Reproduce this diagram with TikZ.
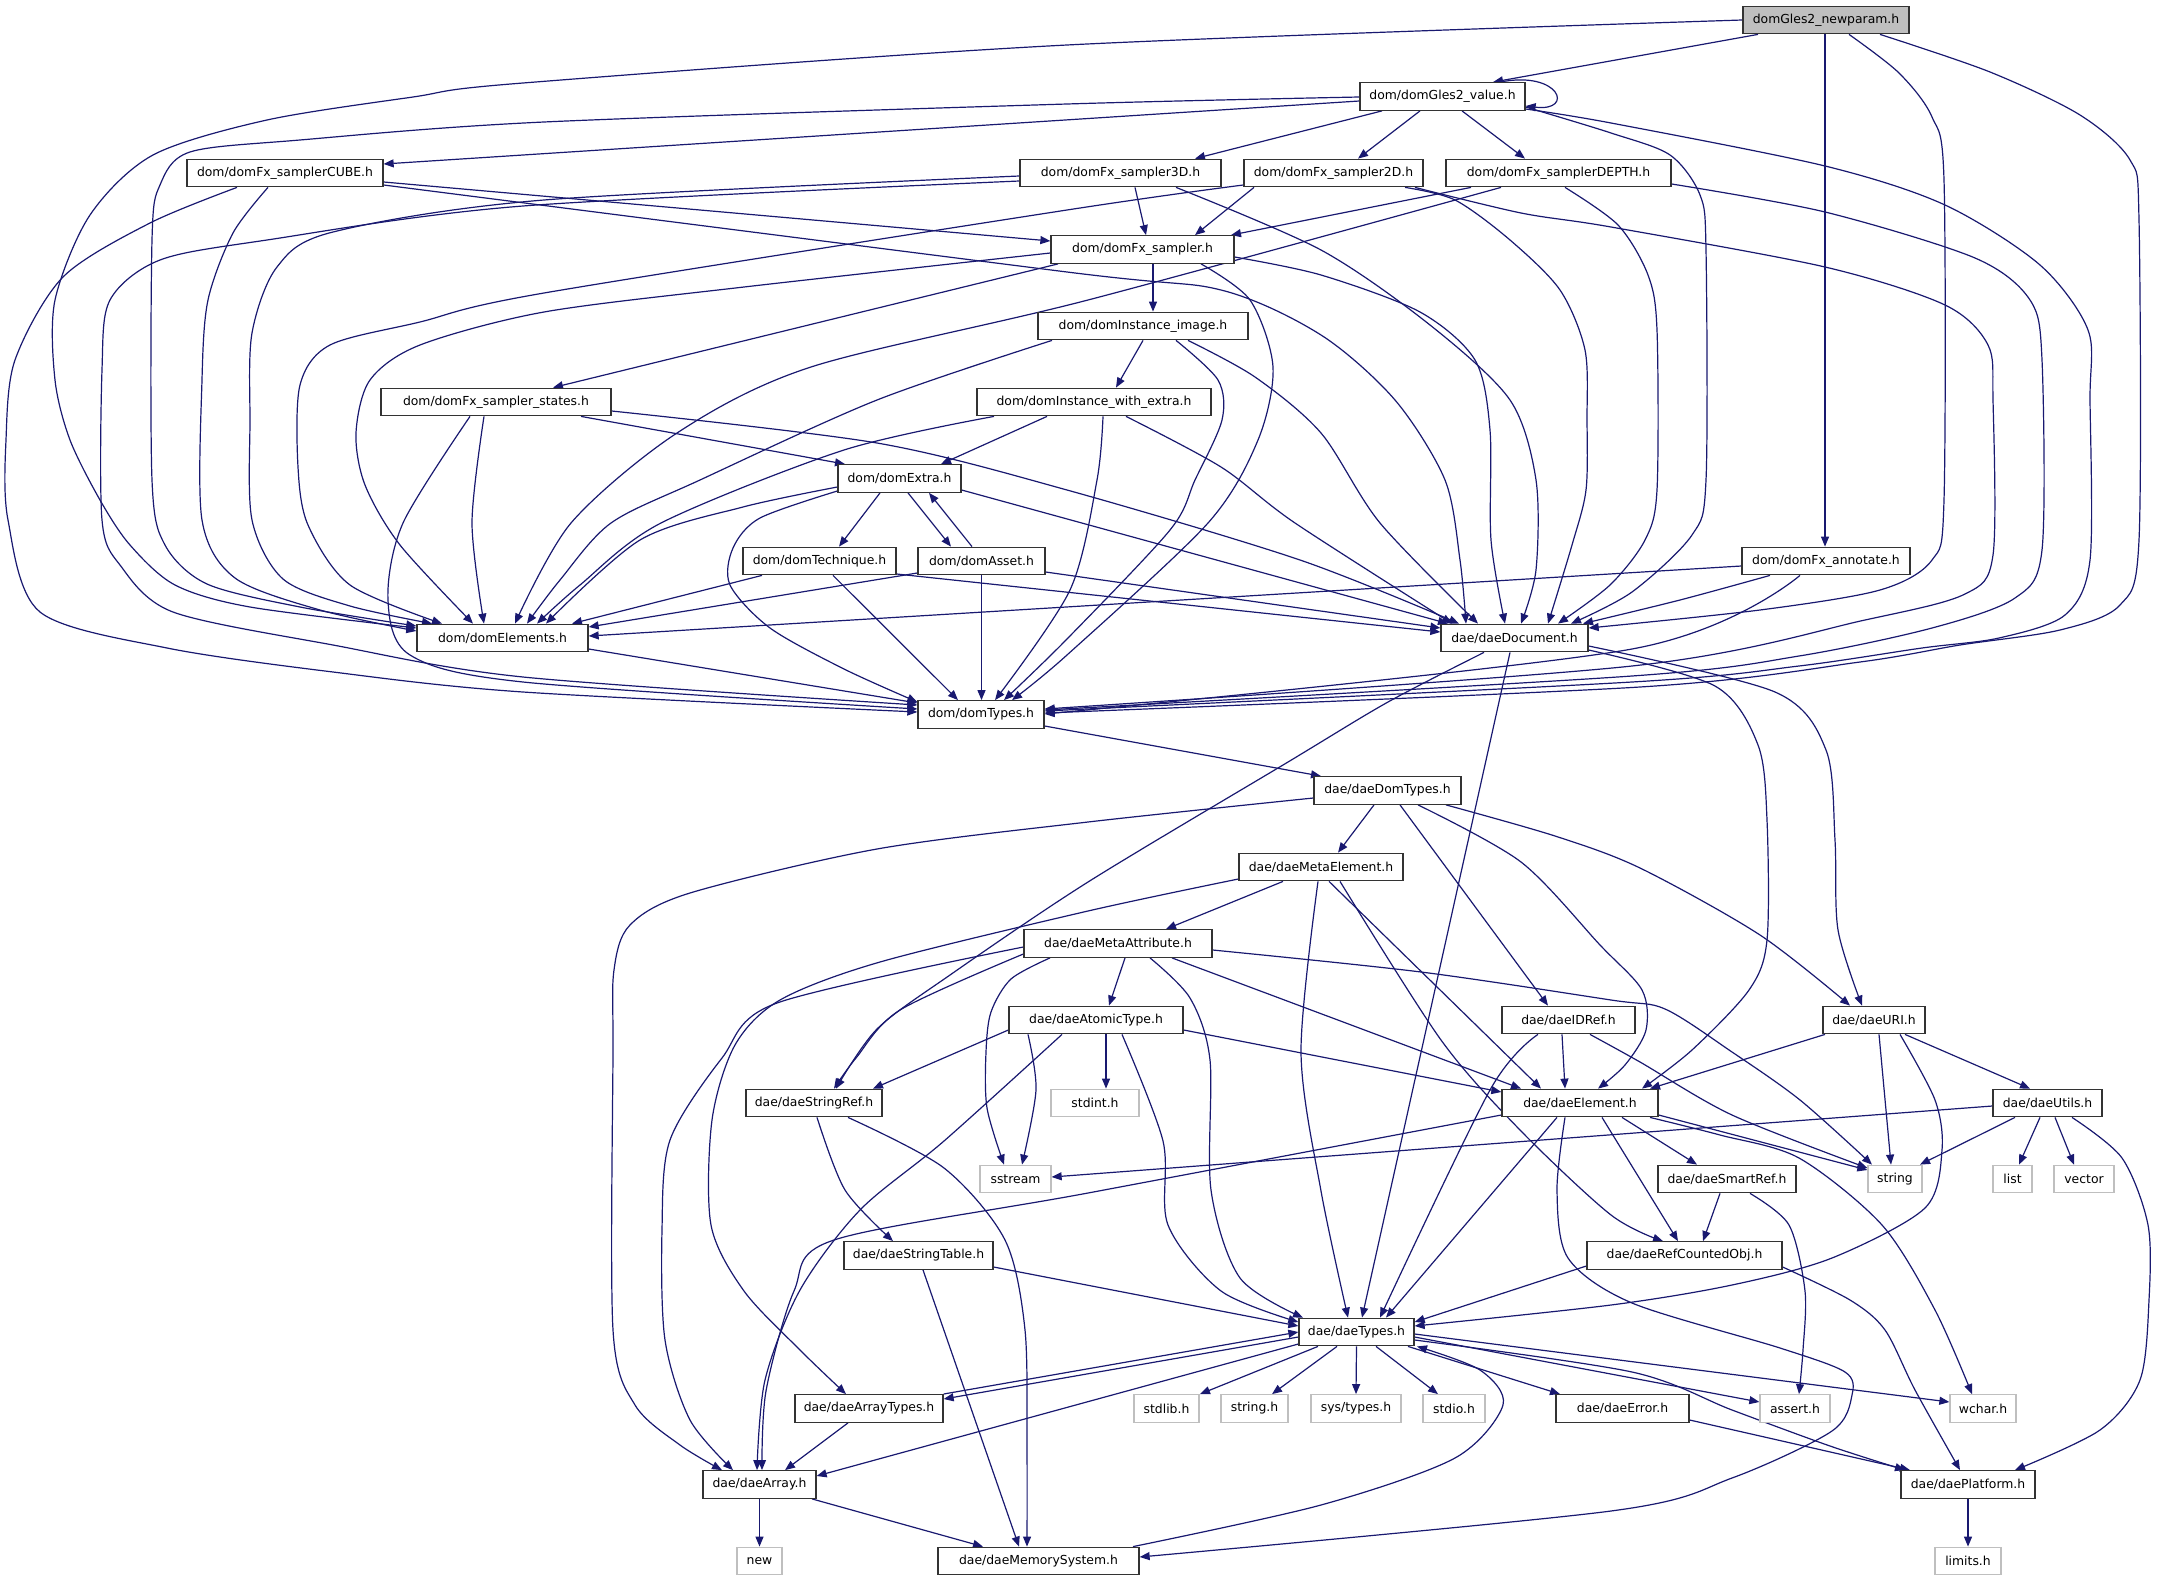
\documentclass[tikz,border=0pt]{standalone}
\usepackage{fontspec}
\setmainfont{DejaVu Sans}
\usetikzlibrary{arrows.meta,backgrounds}
\definecolor{edgec}{HTML}{191970}
\definecolor{gborder}{HTML}{BFBFBF}
\definecolor{rootfill}{HTML}{BFBFBF}
\newcommand\dxfont{\fontsize{12.4}{14}\selectfont}
\tikzset{
  box/.style={draw=black!80, line width=1.3pt, fill=white, minimum height=27.5pt, inner sep=0pt, font=\dxfont, text=black},
  sys/.style={box, draw=gborder},
  e/.style={draw=edgec, line width=1.2pt, -{Triangle[length=10pt,width=8pt]}},
}
\begin{document}
\begin{tikzpicture}[x=1pt,y=-1pt]
\useasboundingbox (0,0) rectangle (2176,1587);
% ---------- nodes ----------
\node[box, fill=rootfill, minimum width=166pt] (R) at (1826,20) {domGles2\_newparam.h};
\node[box, minimum width=165pt] (V) at (1442.5,96.5) {dom/domGles2\_value.h};
\node[box, minimum width=196pt] (CUBE) at (285,173) {dom/domFx\_samplerCUBE.h};
\node[box, minimum width=201pt] (S3D) at (1120.5,173) {dom/domFx\_sampler3D.h};
\node[box, minimum width=179pt] (S2D) at (1333.5,173) {dom/domFx\_sampler2D.h};
\node[box, minimum width=225pt] (DEPTH) at (1558.5,173) {dom/domFx\_samplerDEPTH.h};
\node[box, minimum width=183pt] (SAMP) at (1142.5,249.5) {dom/domFx\_sampler.h};
\node[box, minimum width=210pt] (IMG) at (1143,326) {dom/domInstance\_image.h};
\node[box, minimum width=234pt] (WEX) at (1094,402) {dom/domInstance\_with\_extra.h};
\node[box, minimum width=230pt] (STATES) at (496,402) {dom/domFx\_sampler\_states.h};
\node[box, minimum width=123pt] (EXTRA) at (899.5,478.5) {dom/domExtra.h};
\node[box, minimum width=153pt] (TECH) at (819.5,561) {dom/domTechnique.h};
\node[box, minimum width=127pt] (ASSET) at (981.5,561) {dom/domAsset.h};
\node[box, minimum width=168pt] (ANN) at (1826,561) {dom/domFx\_annotate.h};
\node[box, minimum width=171pt] (ELEM) at (502.5,638) {dom/domElements.h};
\node[box, minimum width=147pt] (DOC) at (1514.5,638) {dae/daeDocument.h};
\node[box, minimum width=126pt] (DTYPES) at (981,714.5) {dom/domTypes.h};
\node[box, minimum width=147pt] (DDT) at (1387.5,790.5) {dae/daeDomTypes.h};
\node[box, minimum width=164pt] (META) at (1321,867) {dae/daeMetaElement.h};
\node[box, minimum width=188pt] (MATTR) at (1118,943.5) {dae/daeMetaAttribute.h};
\node[box, minimum width=174pt] (ATOM) at (1096,1020) {dae/daeAtomicType.h};
\node[box, minimum width=133pt] (IDREF) at (1568.5,1020) {dae/daeIDRef.h};
\node[box, minimum width=102pt] (URI) at (1874,1020) {dae/daeURI.h};
\node[box, minimum width=136pt] (SREF) at (814,1103) {dae/daeStringRef.h};
\node[sys, minimum width=88pt] (STDINT) at (1095,1103) {stdint.h};
\node[box, minimum width=156pt] (ELT) at (1580,1103) {dae/daeElement.h};
\node[box, minimum width=109pt] (UTILS) at (2047.5,1103) {dae/daeUtils.h};
\node[sys, minimum width=71pt] (SSTREAM) at (1015.5,1179) {sstream};
\node[box, minimum width=138pt] (SMART) at (1727,1179) {dae/daeSmartRef.h};
\node[sys, minimum width=54pt] (STRING) at (1895,1179) {string};
\node[sys, minimum width=39pt] (LIST) at (2012.5,1179) {list};
\node[sys, minimum width=60pt] (VECTOR) at (2084,1179) {vector};
\node[box, minimum width=149pt] (STABLE) at (918.5,1255.5) {dae/daeStringTable.h};
\node[box, minimum width=195pt] (REFC) at (1684.5,1255.5) {dae/daeRefCountedObj.h};
\node[box, minimum width=115pt] (DTY) at (1356.5,1332) {dae/daeTypes.h};
\node[sys, minimum width=65pt] (STDLIB) at (1166.5,1408.5) {stdlib.h};
\node[sys, minimum width=67pt] (STRINGH) at (1254.5,1408.5) {string.h};
\node[sys, minimum width=90pt] (SYSTYPES) at (1356,1408.5) {sys/types.h};
\node[sys, minimum width=62pt] (STDIO) at (1454,1408.5) {stdio.h};
\node[box, minimum width=133pt] (ERROR) at (1622.5,1408.5) {dae/daeError.h};
\node[sys, minimum width=70pt] (ASSERT) at (1795,1408.5) {assert.h};
\node[sys, minimum width=66pt] (WCHAR) at (1983,1408.5) {wchar.h};
\node[box, minimum width=148pt] (ATYPES) at (869,1408.5) {dae/daeArrayTypes.h};
\node[box, minimum width=113pt] (ARRAY) at (759.5,1484.5) {dae/daeArray.h};
\node[box, minimum width=134pt] (PLAT) at (1968,1484.5) {dae/daePlatform.h};
\node[sys, minimum width=45pt] (NEW) at (759.5,1561) {new};
\node[box, minimum width=201pt] (MEM) at (1038.5,1561) {dae/daeMemorySystem.h};
\node[sys, minimum width=66pt] (LIMITS) at (1968,1561) {limits.h};
% ---------- edges ----------
\begin{scope}[on background layer]
% root
\draw[e] (R.south -| 1758,0) -- (V.north -| 1493,0);
\draw[e] plot[smooth,tension=.5] coordinates {(R.west) (1067,45) (523,83) (413,97) (267,120) (153,155) (90,215) (55,300) (55,380) (70,440) (100,500) (130,545) (175,585) (250,607) (ELEM.west |- 0,628)};
\draw[e] (R.south -| 1825,0) -- (ANN.north -| 1825,0);
\draw[e] plot[smooth,tension=.5] coordinates {(R.south -| 1849,0) (1899,73) (1932,117) (1944,180) (1944,500) (1932,560) (1880,590) (1760,610) (DOC.east |- 0,628)};
\draw[e] plot[smooth,tension=.5] coordinates {(R.south -| 1880,0) (1990,72) (2080,115) (2130,160) (2139,220) (2139,540) (2120,605) (2060,630) (1960,645) (1860,662) (1640,687) (DTYPES.east |- 0,713)};
% value
\draw[e] (V.north -| 1500,0) .. controls (1560,70) and (1575,112) .. (V.east |- 0,106);
\draw[e] (V.west |- 0,101) -- (CUBE.east |- 0,164);
\draw[e] plot[smooth,tension=.5] coordinates {(V.west |- 0,97) (1067,104) (544,122) (300,140) (190,152) (160,185) (152,240) (152,480) (165,545) (207,584) (300,607) (ELEM.west |- 0,626)};
\draw[e] (V.south -| 1382,0) -- (S3D.north -| 1195,0);
\draw[e] (V.south -| 1420,0) -- (S2D.north -| 1358,0);
\draw[e] (V.south -| 1462,0) -- (DEPTH.north -| 1525,0);
\draw[e] plot[smooth,tension=.5] coordinates {(V.east |- 0,109) (1611,123) (1825,166) (1945,205) (2040,265) (2088,330) (2090,400) (2090,560) (2065,615) (1999,638) (1922,648) (1799,666) (1632,682) (DTYPES.east |- 0,711)};
\draw[e] plot[smooth,tension=.5] coordinates {(V.east |- 0,107) (1611,133) (1670,155) (1700,195) (1706,250) (1706,480) (1692,535) (1632,592) (DOC.north -| 1571,0)};
% samplerCUBE
\draw[e] (CUBE.east |- 0,182) -- (SAMP.west |- 0,241);
\draw[e] plot[smooth,tension=.5] coordinates {(CUBE.east |- 0,185) (1067,272) (1221,290) (1321,335) (1395,400) (1445,480) (1460,560) (DOC.north -| 1466,0)};
\draw[e] plot[smooth,tension=.5] coordinates {(CUBE.south -| 268,0) (233,233) (208,300) (202,380) (202,520) (235,578) (320,610) (ELEM.west |- 0,631)};
\draw[e] plot[smooth,tension=.5] coordinates {(CUBE.south -| 237,0) (150,223) (63,277) (15,360) (6,440) (8,520) (40,612) (167,648) (333,672) (523,692) (DTYPES.west |- 0,712)};
% sampler3D
\draw[e] (S3D.south -| 1135,0) -- (SAMP.north -| 1146,0);
\draw[e] plot[smooth,tension=.5] coordinates {(S3D.west |- 0,176) (544,200) (333,232) (277,267) (252,333) (250,420) (252,520) (283,579) (350,606) (ELEM.north -| 432,0)};
\draw[e] plot[smooth,tension=.5] coordinates {(S3D.west |- 0,181) (523,206) (267,240) (160,260) (110,300) (102,370) (102,520) (120,565) (173,612) (333,645) (523,677) (DTYPES.west |- 0,705)};
\draw[e] plot[smooth,tension=.5] coordinates {(S3D.south -| 1176,0) (1321,250) (1430,325) (1510,400) (1536,480) (1536,570) (DOC.north -| 1521,0)};
% sampler2D
\draw[e] (S2D.south -| 1254,0) -- (SAMP.north -| 1195,0);
\draw[e] plot[smooth,tension=.5] coordinates {(S2D.west |- 0,185) (1067,210) (544,293) (420,322) (330,345) (300,385) (298,467) (308,525) (350,585) (ELEM.north -| 442,0)};
\draw[e] plot[smooth,tension=.5] coordinates {(S2D.south -| 1405,0) (1455,200) (1510,240) (1560,290) (1585,350) (1587,420) (1586,490) (1572,545) (DOC.north -| 1548,0)};
\draw[e] plot[smooth,tension=.5] coordinates {(S2D.south -| 1415,0) (1521,213) (1611,227) (1825,267) (1945,305) (1988,345) (1993,400) (1993,555) (1965,594) (1865,620) (1632,666) (DTYPES.east |- 0,709)};
% samplerDEPTH
\draw[e] (DEPTH.south -| 1471,0) -- (SAMP.north -| 1231,0);
\draw[e] plot[smooth,tension=.5] coordinates {(DEPTH.south -| 1501,0) (1088,300) (811,367) (677,433) (571,523) (ELEM.north -| 515,0)};
\draw[e] plot[smooth,tension=.5] coordinates {(DEPTH.south -| 1565,0) (1618,225) (1648,275) (1657,330) (1657,490) (1645,540) (1610,585) (DOC.north -| 1558,0)};
\draw[e] plot[smooth,tension=.5] coordinates {(DEPTH.east |- 0,184) (1825,212) (1975,258) (2030,300) (2042,360) (2042,550) (2015,598) (1932,628) (1799,656) (1632,676) (DTYPES.east |- 0,710)};
% sampler
\draw[e] (SAMP.south -| 1153,0) -- (IMG.north -| 1153,0);
\draw[e] (SAMP.south -| 1058,0) -- (STATES.north -| 553,0);
\draw[e] plot[smooth,tension=.5] coordinates {(SAMP.west |- 0,253) (744,287) (544,312) (420,345) (370,380) (356,433) (365,485) (400,545) (ELEM.north -| 473,0)};
\draw[e] plot[smooth,tension=.5] coordinates {(SAMP.south -| 1201,0) (1250,300) (1273,367) (1258,440) (1208,523) (1067,655) (DTYPES.north -| 1012,0)};
\draw[e] plot[smooth,tension=.5] coordinates {(SAMP.east |- 0,257) (1321,275) (1420,312) (1475,360) (1490,430) (1491,540) (DOC.north -| 1505,0)};
% instance_image
\draw[e] (IMG.south -| 1143,0) -- (WEX.north -| 1116,0);
\draw[e] plot[smooth,tension=.5] coordinates {(IMG.south -| 1052,0) (877,400) (700,480) (611,523) (560,580) (ELEM.north -| 527,0)};
\draw[e] plot[smooth,tension=.5] coordinates {(IMG.south -| 1176,0) (1218,380) (1222,420) (1195,480) (1170,530) (1067,639) (DTYPES.north -| 1004,0)};
\draw[e] plot[smooth,tension=.5] coordinates {(IMG.south -| 1188,0) (1255,377) (1321,433) (1380,523) (DOC.north -| 1478,0)};
% instance_with_extra
\draw[e] (WEX.south -| 1047,0) -- (EXTRA.north -| 941,0);
\draw[e] plot[smooth,tension=.5] coordinates {(WEX.south -| 994,0) (844,450) (661,523) (580,585) (ELEM.north -| 537,0)};
\draw[e] plot[smooth,tension=.5] coordinates {(WEX.south -| 1103,0) (1097,480) (1070,590) (DTYPES.north -| 995,0)};
\draw[e] plot[smooth,tension=.5] coordinates {(WEX.south -| 1126,0) (1221,467) (1295,523) (DOC.north -| 1452,0)};
% sampler_states
\draw[e] (STATES.south -| 581,0) -- (EXTRA.north -| 845,0);
\draw[e] plot[smooth,tension=.5] coordinates {(STATES.south -| 484,0) (472,523) (ELEM.north -| 484,0)};
\draw[e] plot[smooth,tension=.5] coordinates {(STATES.south -| 470,0) (403,523) (388,600) (410,655) (523,682) (DTYPES.west |- 0,709)};
\draw[e] plot[smooth,tension=.5] coordinates {(STATES.east |- 0,411) (877,443) (1067,490) (1300,560) (DOC.north -| 1459,0)};
% extra
\draw[e] (EXTRA.south -| 880,0) -- (TECH.north -| 839,0);
\draw[e] (EXTRA.south -| 908,0) -- (ASSET.north -| 951,0);
\draw[e] (ASSET.north -| 972,0) -- (EXTRA.south -| 929,0);
\draw[e] plot[smooth,tension=.5] coordinates {(EXTRA.west |- 0,487) (743,507) (640,540) (ELEM.north -| 546,0)};
\draw[e] plot[smooth,tension=.5] coordinates {(EXTRA.west |- 0,491) (760,518) (733,548) (730,585) (770,628) (844,669) (DTYPES.west |- 0,702)};
\draw[e] (EXTRA.east |- 0,490) -- (DOC.north -| 1448,0);
% technique
\draw[e] (TECH.south -| 762,0) -- (ELEM.north -| 572,0);
\draw[e] (TECH.south -| 833,0) -- (DTYPES.north -| 958,0);
\draw[e] (TECH.east |- 0,574) -- (DOC.west |- 0,632);
% asset
\draw[e] (ASSET.west |- 0,573) -- (ELEM.east |- 0,627);
\draw[e] (ASSET.south) -- (DTYPES.north -| 981.5,0);
\draw[e] (ASSET.east |- 0,572) -- (DOC.west |- 0,628);
% annotate
\draw[e] (ANN.west |- 0,566) -- (ELEM.east |- 0,636);
\draw[e] plot[smooth,tension=.5] coordinates {(ANN.south -| 1770,0) (1680,600) (DOC.north -| 1583,0)};
\draw[e] plot[smooth,tension=.5] coordinates {(ANN.south -| 1800,0) (1632,649) (DTYPES.east |- 0,714)};
% domElements, domTypes
\draw[e] (ELEM.east |- 0,649) -- (DTYPES.west |- 0,703);
\draw[e] (DTYPES.east |- 0,726) -- (DDT.north -| 1321,0);
% daeDocument
\draw[e] plot[smooth,tension=.5] coordinates {(DOC.south -| 1484,0) (1388,702) (1288,762) (1088,882) (950,975) (877,1029) (SREF.north -| 836,0)};
\draw[e] (DOC.south -| 1510,0) -- (DTY.north -| 1362,0);
\draw[e] plot[smooth,tension=.5] coordinates {(DOC.east |- 0,650) (1715,686) (1758,745) (1767,820) (1767,940) (1749,990) (1692,1050) (ELT.north -| 1642,0)};
\draw[e] plot[smooth,tension=.5] coordinates {(DOC.east |- 0,646) (1775,692) (1826,750) (1835,840) (1838,930) (URI.north -| 1862,0)};
% daeDomTypes
\draw[e] (DDT.south -| 1374,0) -- (META.north -| 1338,0);
\draw[e] (DDT.south -| 1400,0) -- (IDREF.north -| 1548,0);
\draw[e] plot[smooth,tension=.5] coordinates {(DDT.south -| 1418,0) (1521,862) (1600,945) (1642,990) (1646,1030) (1625,1065) (ELT.north -| 1598,0)};
\draw[e] plot[smooth,tension=.5] coordinates {(DDT.south -| 1446,0) (1555,836) (1640,868) (1760,935) (URI.north -| 1850,0)};
\draw[e] plot[smooth,tension=.5] coordinates {(DDT.west |- 0,798) (1088,822) (877,849) (690,893) (630,925) (614,970) (613,1050) (613,1330) (635,1405) (680,1445) (ARRAY.north -| 722,0)};
% daeMetaElement
\draw[e] (META.south -| 1283,0) -- (MATTR.north -| 1166,0);
\draw[e] plot[smooth,tension=.5] coordinates {(META.south -| 1318,0) (1301,1052) (1321,1191) (DTY.north -| 1348,0)};
\draw[e] (META.south -| 1329,0) -- (ELT.north -| 1541,0);
\draw[e] plot[smooth,tension=.5] coordinates {(META.south -| 1340,0) (1441,1040) (1520,1130) (1611,1215) (REFC.north -| 1663,0)};
\draw[e] plot[smooth,tension=.5] coordinates {(META.west |- 0,879) (1088,911) (880,962) (780,1000) (735,1045) (712,1120) (711,1225) (744,1291) (800,1350) (ATYPES.north -| 846,0)};
% daeMetaAttribute
\draw[e] (MATTR.south -| 1125,0) -- (ATOM.north -| 1109,0);
\draw[e] plot[smooth,tension=.5] coordinates {(MATTR.west |- 0,954) (900,1010) (856,1058) (SREF.north -| 834,0)};
\draw[e] plot[smooth,tension=.5] coordinates {(MATTR.west |- 0,947) (777,1003) (722,1058) (670,1140) (662,1230) (665,1340) (690,1420) (ARRAY.north -| 733,0)};
\draw[e] plot[smooth,tension=.5] coordinates {(MATTR.south -| 1050,0) (1011,979) (991,1012) (986,1052) (987,1108) (SSTREAM.north -| 1004,0)};
\draw[e] plot[smooth,tension=.5] coordinates {(MATTR.south -| 1150,0) (1190,998) (1210,1060) (1211,1190) (1240,1278) (DTY.north -| 1303,0)};
\draw[e] (MATTR.south -| 1172,0) -- (ELT.north -| 1521,0);
\draw[e] plot[smooth,tension=.5] coordinates {(MATTR.east |- 0,950) (1421,972) (1611,1000) (1665,1009) (1732,1052) (1800,1100) (STRING.north -| 1872,0)};
% daeAtomicType
\draw[e] (ATOM.west |- 0,1030) -- (SREF.north -| 873,0);
\draw[e] plot[smooth,tension=.5] coordinates {(ATOM.south -| 1028,0) (1036,1090) (SSTREAM.north -| 1022,0)};
\draw[e] (ATOM.south -| 1106,0) -- (STDINT.north -| 1106,0);
\draw[e] plot[smooth,tension=.5] coordinates {(ATOM.south -| 1062,0) (944,1141) (860,1210) (800,1290) (765,1380) (ARRAY.north -| 757,0)};
\draw[e] plot[smooth,tension=.5] coordinates {(ATOM.south -| 1122,0) (1163,1141) (1168,1225) (1221,1291) (DTY.west |- 0,1322)};
\draw[e] (ATOM.east |- 0,1030) -- (ELT.west |- 0,1092);
% daeIDRef
\draw[e] plot[smooth,tension=.5] coordinates {(IDREF.south -| 1590,0) (1640,1062) (1732,1115) (STRING.west |- 0,1168)};
\draw[e] (IDREF.south -| 1562,0) -- (ELT.north -| 1565,0);
\draw[e] plot[smooth,tension=.5] coordinates {(IDREF.south -| 1538,0) (1490,1090) (DTY.north -| 1380,0)};
% daeURI
\draw[e] (URI.south -| 1879,0) -- (STRING.north -| 1891,0);
\draw[e] (URI.south -| 1905,0) -- (UTILS.north -| 2030,0);
\draw[e] (URI.south -| 1825,0) -- (ELT.north -| 1650,0);
\draw[e] plot[smooth,tension=.5] coordinates {(URI.south -| 1900,0) (1935,1100) (1942,1150) (1925,1208) (1832,1258) (1732,1285) (1611,1305) (DTY.east |- 0,1326)};
% daeStringRef
\draw[e] plot[smooth,tension=.5] coordinates {(SREF.south -| 817,0) (845,1190) (STABLE.north -| 893,0)};
\draw[e] plot[smooth,tension=.5] coordinates {(SREF.south -| 848,0) (944,1168) (1005,1240) (1025,1330) (1027,1450) (MEM.north -| 1027,0)};
% daeElement
\draw[e] (ELT.east |- 0,1115) -- (STRING.west |- 0,1170);
\draw[e] (ELT.south -| 1622,0) -- (SMART.north -| 1697,0);
\draw[e] (ELT.south -| 1602,0) -- (REFC.north -| 1678,0);
\draw[e] plot[smooth,tension=.5] coordinates {(ELT.south -| 1650,0) (1720,1135) (1799,1158) (1882,1225) (1935,1310) (WCHAR.north -| 1972,0)};
\draw[e] plot[smooth,tension=.5] coordinates {(ELT.south -| 1565,0) (1557,1190) (1568,1258) (1632,1303) (1780,1348) (1845,1372) (1852,1395) (1832,1431) (1732,1478) (1611,1511) (MEM.east |- 0,1557)};
\draw[e] plot[smooth,tension=.5] coordinates {(ELT.west |- 0,1115) (1088,1193) (834,1240) (794,1291) (766,1391) (ARRAY.north -| 762,0)};
\draw[e] (ELT.south -| 1557,0) -- (DTY.north -| 1386,0);
% daeUtils
\draw[e] (UTILS.south -| 2015,0) -- (STRING.north -| 1920,0);
\draw[e] (UTILS.south -| 2040,0) -- (LIST.north -| 2019,0);
\draw[e] (UTILS.south -| 2055,0) -- (VECTOR.north -| 2074,0);
\draw[e] plot[smooth,tension=.5] coordinates {(UTILS.south -| 2072,0) (2122,1158) (2148,1225) (2149,1300) (2140,1380) (2100,1430) (PLAT.north -| 2015,0)};
\draw[e] (UTILS.west |- 0,1106) -- (SSTREAM.east |- 0,1177);
% daeSmartRef
\draw[e] (SMART.south -| 1720,0) -- (REFC.north -| 1703,0);
\draw[e] plot[smooth,tension=.5] coordinates {(SMART.south -| 1750,0) (1789,1225) (1805,1291) (1803,1350) (ASSERT.north -| 1799,0)};
% daeStringTable
\draw[e] (STABLE.east |- 0,1267) -- (DTY.west |- 0,1326);
\draw[e] (STABLE.south -| 923,0) -- (MEM.north -| 1019,0);
% daeRefCountedObj
\draw[e] (REFC.west |- 0,1266) -- (DTY.east |- 0,1322);
\draw[e] plot[smooth,tension=.5] coordinates {(REFC.east |- 0,1267) (1850,1300) (1885,1330) (1915,1390) (PLAT.north -| 1960,0)};
% daeTypes
\draw[e] (DTY.south -| 1318,0) -- (STDLIB.north -| 1200,0);
\draw[e] (DTY.south -| 1337,0) -- (STRINGH.north -| 1272,0);
\draw[e] (DTY.south) -- (SYSTYPES.north);
\draw[e] (DTY.south -| 1376,0) -- (STDIO.north -| 1438,0);
\draw[e] (DTY.south -| 1408,0) -- (ERROR.north -| 1560,0);
\draw[e] (DTY.east |- 0,1337) -- (ASSERT.west |- 0,1402);
\draw[e] (DTY.east |- 0,1334) -- (WCHAR.west |- 0,1402);
\draw[e] plot[smooth,tension=.5] coordinates {(DTY.east |- 0,1340) (1632,1372) (1732,1410) (1830,1446) (PLAT.north -| 1905,0)};
\draw[e] (DTY.west |- 0,1337) -- (ATYPES.east |- 0,1399);
\draw[e] (ATYPES.east |- 0,1394) -- (DTY.west |- 0,1332);
\draw[e] (DTY.west |- 0,1344) -- (ARRAY.east |- 0,1476);
% lower ones
\draw[e] (ATYPES.south -| 848,0) -- (ARRAY.north -| 785,0);
\draw[e] plot[smooth,tension=.5] coordinates {(MEM.north -| 1133,0) (1321,1505) (1455,1458) (1503,1405) (1480,1370) (DTY.south -| 1417,0)};
\draw[e] (ERROR.east |- 0,1420) -- (PLAT.north -| 1910,0);
\draw[e] (ARRAY.south) -- (NEW.north);
\draw[e] (ARRAY.south -| 812,0) -- (MEM.north -| 983,0);
\draw[e] (PLAT.south) -- (LIMITS.north);
\end{scope}
\end{tikzpicture}
\end{document}
